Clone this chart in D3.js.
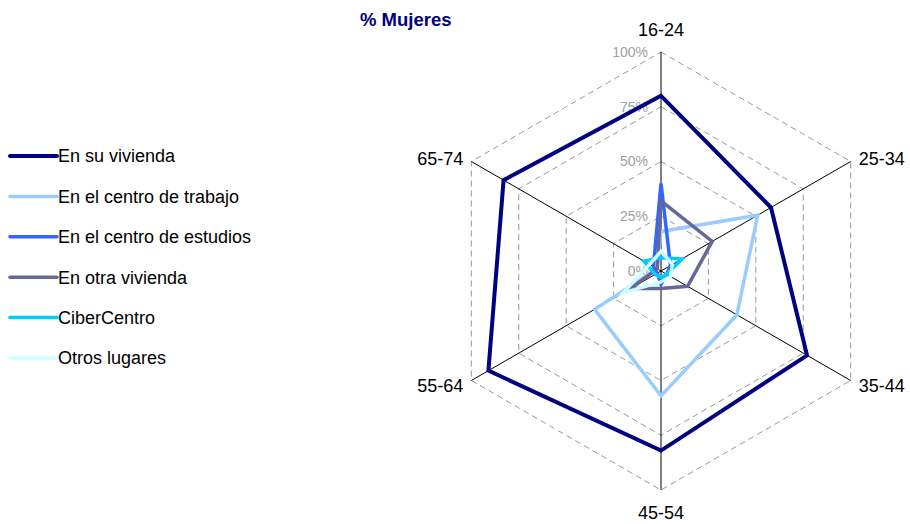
<!DOCTYPE html>
<html>
<head>
<meta charset="utf-8">
<script src="https://d3js.org/d3.v7.min.js"></script>
<style>
  body { margin: 0; background: white; font-family: Arial, "Liberation Sans", sans-serif; }
</style>
</head>
<body>
<div id="chart"></div>
<script>
const ageGroups = ['16-24', '25-34', '35-44', '45-54', '55-64', '65-74'];
const tickValues = [0, 25, 50, 75, 100];

const seriesNames = ['En su vivienda', 'En el centro de trabajo', 'En el centro de estudios', 'En otra vivienda', 'CiberCentro', 'Otros lugares'];
const seriesColors = ['#000080', '#99CCFF', '#3366FF', '#666699', '#00CCFF', '#CCFFFF'];

const suVivienda = [80, 58, 77, 82, 91, 83];
const centroTrabajo = [18, 51, 40, 57, 35, 2];
const centroEstudios = [40, 5, 3, 6, 2, 4];
const otraVivienda = [32, 27, 14, 8, 16, 2];
const ciberCentro = [6, 11, 3, 3, 3, 9];
const otrosLugares = [9, 6, 5, 5, 20, 6];

const allSeries = [suVivienda, centroTrabajo, centroEstudios, otraVivienda, ciberCentro, otrosLugares];

const width = 910, height = 524;
const cx = 661, cy = 271, radius = 219;

const svg = d3.select('#chart').append('svg')
  .attr('width', width)
  .attr('height', height);

const rScale = d3.scaleLinear().domain([0, 100]).range([0, radius]);
const angle = d3.scalePoint().domain(ageGroups).range([0, 2 * Math.PI * 5 / 6]);

const px = (a, v) => cx + rScale(v) * Math.sin(angle(a));
const py = (a, v) => cy - rScale(v) * Math.cos(angle(a));

const g = svg.append('g');

// grid hexagons
tickValues.filter(t => t > 0).forEach(t => {
  g.append('path')
    .attr('d', d3.line()(ageGroups.map(a => [px(a, t), py(a, t)])) + 'Z')
    .attr('fill', 'none')
    .attr('stroke', '#999')
    .attr('stroke-width', 1)
    .attr('stroke-dasharray', '6,4');
});

// spokes
ageGroups.forEach(a => {
  g.append('line')
    .attr('x1', cx).attr('y1', cy)
    .attr('x2', px(a, 100)).attr('y2', py(a, 100))
    .attr('stroke', '#000')
    .attr('stroke-width', 1);
});

// tick labels
tickValues.forEach(t => {
  g.append('text')
    .attr('x', cx - 13)
    .attr('y', cy - rScale(t))
    .attr('dy', '0.35em')
    .attr('text-anchor', 'end')
    .attr('font-size', 14)
    .attr('fill', '#a0a0a0')
    .text(t + '%');
});

// category labels
ageGroups.forEach(a => {
  const s = Math.sin(angle(a)), c = Math.cos(angle(a));
  let x = px(a, 100), y = py(a, 100), anchor = 'middle';
  if (Math.abs(s) < 0.01) {
    y += c > 0 ? -22 : 23;
  } else {
    anchor = s > 0 ? 'start' : 'end';
    x += s > 0 ? 8 : -8;
    y += c > 0 ? -3 : 5;
  }
  g.append('text')
    .attr('x', x).attr('y', y)
    .attr('dy', '0.35em')
    .attr('text-anchor', anchor)
    .attr('font-size', 18)
    .attr('fill', '#000')
    .text(a);
});

// series
const radarLine = d3.line();
allSeries.forEach((vals, i) => {
  g.append('path')
    .attr('d', radarLine(ageGroups.map((a, j) => [px(a, vals[j]), py(a, vals[j])])) + 'Z')
    .attr('fill', 'none')
    .attr('stroke', seriesColors[i])
    .attr('stroke-width', i === 0 ? 4 : 3.5)
    .attr('stroke-linejoin', 'miter');
});

// title
svg.append('text')
  .attr('x', 360).attr('y', 20)
  .attr('dy', '0.35em')
  .attr('font-size', 18.5)
  .attr('font-weight', 'bold')
  .attr('fill', '#000080')
  .text('% Mujeres');

// legend
const legend = svg.append('g');
seriesNames.forEach((name, i) => {
  const y = 156 + i * 40.4;
  legend.append('line')
    .attr('x1', 10).attr('x2', 57)
    .attr('y1', y).attr('y2', y)
    .attr('stroke', seriesColors[i])
    .attr('stroke-width', i === 0 ? 4 : 3.5)
    .attr('stroke-linecap', 'round');
  legend.append('text')
    .attr('x', 58).attr('y', y)
    .attr('dy', '0.35em')
    .attr('font-size', 18)
    .attr('fill', '#000')
    .text(name);
});
</script>
</body>
</html>
